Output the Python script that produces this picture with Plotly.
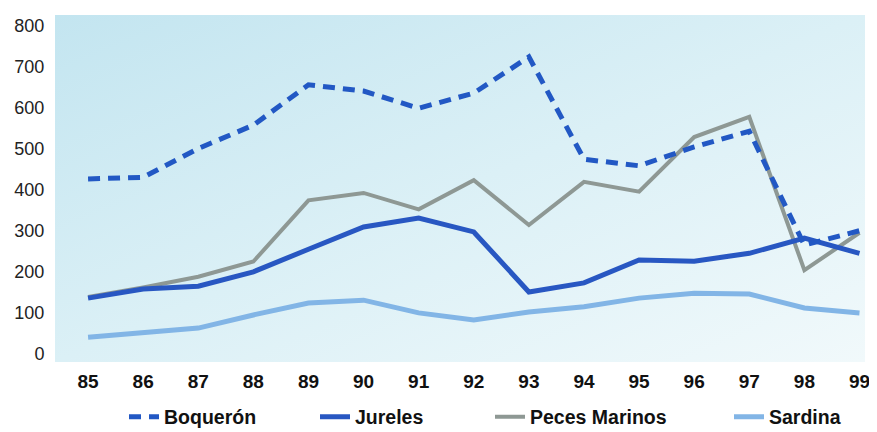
import plotly.graph_objects as go
import urllib.parse

years = [85, 86, 87, 88, 89, 90, 91, 92, 93, 94, 95, 96, 97, 98, 99]
year_labels = [str(y) for y in years]
boqueron = [426, 430, 500, 557, 655, 640, 598, 635, 723, 474, 458, 504, 542, 265, 300]
jureles = [136, 158, 165, 200, 255, 309, 331, 297, 151, 173, 229, 226, 245, 282, 245]
peces = [139, 162, 188, 225, 374, 392, 352, 423, 314, 419, 395, 528, 577, 204, 295]
sardina = [41, 52, 63, 95, 124, 131, 100, 83, 102, 115, 136, 148, 146, 112, 100]
y_ticks = [0, 100, 200, 300, 400, 500, 600, 700, 800]

svg = ('<svg xmlns="http://www.w3.org/2000/svg" width="800" height="350" preserveAspectRatio="none">'
       '<defs><linearGradient id="g" x1="0" y1="0" x2="1" y2="1">'
       '<stop offset="0" stop-color="#c3e5f0"/><stop offset="0.5" stop-color="#dbf0f6"/>'
       '<stop offset="1" stop-color="#f1f9fb"/></linearGradient></defs>'
       '<rect width="800" height="350" fill="url(#g)"/></svg>')
bg_src = "data:image/svg+xml;charset=utf-8," + urllib.parse.quote(svg)

W, H = 869, 424  # page body has an 8px default margin

fig = go.Figure()
fig.add_trace(go.Scatter(x=years, y=sardina, name="Sardina", mode="lines",
                         line=dict(color="#82b5e6", width=5), legend="legend4"))
fig.add_trace(go.Scatter(x=years, y=peces, name="Peces Marinos", mode="lines",
                         line=dict(color="#8e9894", width=4), legend="legend3"))
fig.add_trace(go.Scatter(x=years, y=jureles, name="Jureles", mode="lines",
                         line=dict(color="#2857c2", width=5), legend="legend2"))
fig.add_trace(go.Scatter(x=years, y=boqueron, name="Boquerón", mode="lines",
                         line=dict(color="#2258c4", width=5, dash="12px,8px"), legend="legend"))

leg_font = dict(family="Liberation Sans, Arial, sans-serif", size=19.5, color="#111111",
                weight="bold")
def leg(xpx):
    return dict(x=xpx / W, y=(H - 409) / H, xref="container", yref="container",
                xanchor="left", yanchor="middle",
                orientation="h", font=leg_font, bgcolor="rgba(0,0,0,0)")

fig.update_layout(
    width=W, height=H,
    margin=dict(l=47, r=12, t=7, b=70, autoexpand=False),
    paper_bgcolor="white",
    plot_bgcolor="rgba(0,0,0,0)",
    images=[dict(source=bg_src, xref="paper", yref="paper", x=0, y=1, sizex=1, sizey=1,
                 sizing="stretch", layer="below", xanchor="left", yanchor="top")],
    xaxis=dict(range=[84.4, 99.1], tickvals=years, ticktext=year_labels, showgrid=False,
               zeroline=False, showline=False, ticks="outside", ticklen=2,
               tickcolor="rgba(0,0,0,0)",
               tickfont=dict(family="Liberation Sans, Arial, sans-serif", size=19,
                             color="#111111", weight="bold")),
    yaxis=dict(range=[-19.5, 825], tickvals=y_ticks, showgrid=False, zeroline=False,
               showline=False, ticks="outside", ticklen=6, tickcolor="rgba(0,0,0,0)",
               tickfont=dict(family="Liberation Sans, Arial, sans-serif", size=18,
                             color="#222222")),
    legend=leg(116),
    legend2=leg(307),
    legend3=leg(482),
    legend4=leg(721),
    showlegend=True,
)

fig.write_html("out.html")
